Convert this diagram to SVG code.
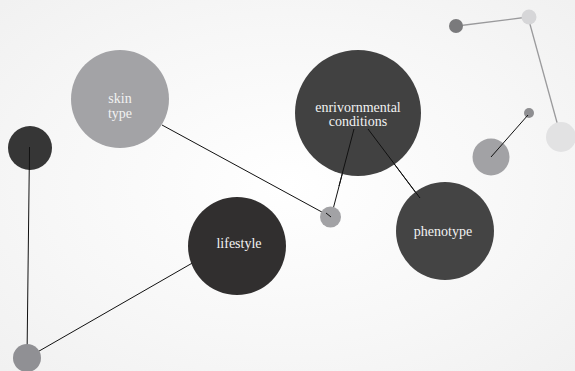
<svg xmlns="http://www.w3.org/2000/svg" width="575" height="371" viewBox="0 0 575 371">
<defs>
<radialGradient id="bg" cx="0.5" cy="0.5" r="0.7">
<stop offset="0" stop-color="#ffffff"/>
<stop offset="0.6" stop-color="#f7f7f7"/>
<stop offset="1" stop-color="#f1f1f1"/>
</radialGradient>
<style>
.lbl{font-family:"Liberation Serif","DejaVu Serif",serif;fill:#f2f2f2;text-anchor:middle;font-size:14px}
.ln{stroke:#111;stroke-width:1;fill:none}
.lg{stroke:#9a9a9c;stroke-width:1.3;fill:none}
</style>
</defs>
<rect width="575" height="371" fill="url(#bg)"/>
<g id="connectors">
<line class="ln" x1="162" y1="125" x2="331" y2="217"/>
<line class="ln" x1="331" y1="217" x2="354" y2="129"/>
<line class="ln" x1="368" y1="129" x2="440" y2="225"/>
<line class="ln" x1="29.5" y1="147" x2="27" y2="358"/>
<line class="ln" x1="27" y1="358" x2="215" y2="250"/>
<line class="lg" x1="457" y1="26" x2="528" y2="17"/>
<line class="lg" x1="528" y1="17" x2="561" y2="137"/>
</g>
<g id="n-skin"><circle cx="120" cy="99" r="49" fill="#a3a3a6"/><text class="lbl" x="120" y="103">skin</text><text class="lbl" x="120" y="117.5">type</text></g>
<g id="n-env"><circle cx="358" cy="113" r="63" fill="#414141"/><text class="lbl" x="358" y="111.5">enrivornmental</text><text class="lbl" x="358" y="126">conditions</text></g>
<g id="n-pheno"><circle cx="445" cy="231" r="49" fill="#444444"/><text class="lbl" x="443" y="236">phenotype</text></g>
<g id="n-life"><circle cx="237" cy="246" r="49" fill="#312f2f"/><text class="lbl" x="239" y="248">lifestyle</text></g>
<g id="n-dark"><circle cx="30" cy="148" r="22" fill="#363636"/></g>
<g id="n-grey-bl"><circle cx="27" cy="358" r="14" fill="#909094"/></g>
<g id="n-grey-mid"><circle cx="330.5" cy="217" r="10.5" fill="#a2a2a5"/></g>
<g id="n-tr1"><circle cx="456" cy="26" r="7" fill="#7a7a7c"/></g>
<g id="n-tr2"><circle cx="529" cy="17" r="7.5" fill="#d6d6d8"/></g>
<g id="n-tr3"><circle cx="561" cy="137" r="15" fill="#e2e2e3"/></g>
<g id="n-tr4"><circle cx="529" cy="113" r="5" fill="#8e8e91"/></g>
<g id="n-tr5"><circle cx="491" cy="157" r="18.5" fill="#a2a2a5"/></g>
<g id="connectors-top"><line class="ln" x1="528" y1="115" x2="491" y2="157"/><line class="ln" x1="29.5" y1="147" x2="29.4" y2="170"/><line class="ln" x1="331" y1="217" x2="326" y2="213"/><line class="ln" x1="368" y1="129" x2="420" y2="198"/><line class="ln" x1="354" y1="129" x2="339" y2="186"/></g>
</svg>
